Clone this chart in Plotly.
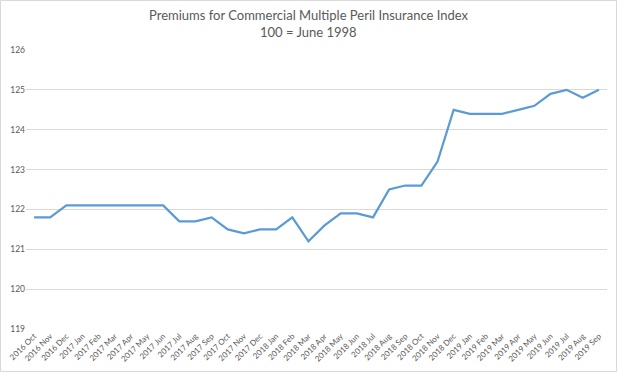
import plotly.graph_objects as go

months = [
    "2016 Oct", "2016 Nov", "2016 Dec",
    "2017 Jan", "2017 Feb", "2017 Mar", "2017 Apr", "2017 May", "2017 Jun",
    "2017 Jul", "2017 Aug", "2017 Sep", "2017 Oct", "2017 Nov", "2017 Dec",
    "2018 Jan", "2018 Feb", "2018 Mar", "2018 Apr", "2018 May", "2018 Jun",
    "2018 Jul", "2018 Aug", "2018 Sep", "2018 Oct", "2018 Nov", "2018 Dec",
    "2019 Jan", "2019 Feb", "2019 Mar", "2019 Apr", "2019 May", "2019 Jun",
    "2019 Jul", "2019 Aug", "2019 Sep",
]
index_values = [
    121.8, 121.8, 122.1,
    122.1, 122.1, 122.1, 122.1, 122.1, 122.1,
    121.7, 121.7, 121.8, 121.5, 121.4, 121.5,
    121.5, 121.8, 121.2, 121.6, 121.9, 121.9,
    121.8, 122.5, 122.6, 122.6, 123.2, 124.5,
    124.4, 124.4, 124.4, 124.5, 124.6, 124.9,
    125.0, 124.8, 125.0,
]
y_ticks = [119, 120, 121, 122, 123, 124, 125, 126]
title_lines = ["Premiums for Commercial Multiple Peril Insurance Index", "100 = June 1998"]

W, H = 617, 372
L, R, T, B = 26, 10, 50, 43

fig = go.Figure()
fig.add_trace(go.Scatter(
    x=months, y=index_values, mode="lines",
    line=dict(color="#5B9BD5", width=2.25),
    hoverinfo="x+y",
))

pw = W - L - R
ph = H - T - B
title_y_px = [15, 32]
annotations = [
    dict(text=t, xref="paper", yref="paper",
         x=(W / 2 - L) / pw, y=1 + (T - ypx) / ph,
         xanchor="center", yanchor="middle", showarrow=False,
         font=dict(size=13, color="#595959"))
    for t, ypx in zip(title_lines, title_y_px)
]

fig.update_layout(
    width=W, height=H,
    margin=dict(l=L, r=R, t=T, b=B, autoexpand=False),
    paper_bgcolor="white", plot_bgcolor="white",
    showlegend=False,
    font=dict(family="Lato, Open Sans, sans-serif", color="#595959"),
    annotations=annotations,
    xaxis=dict(
        type="category", range=[-0.5, len(months) - 0.5],
        tickangle=-45, tickfont=dict(size=8, color="#595959"),
        showgrid=False, zeroline=False, showline=False,
        ticks="", automargin=False,
    ),
    yaxis=dict(
        range=[119, 126], tickvals=y_ticks,
        tickfont=dict(size=8.5, color="#595959"),
        showgrid=True, gridcolor="#D9D9D9", gridwidth=1,
        zeroline=False, showline=False, ticks="", automargin=False,
    ),
    shapes=[dict(
        type="rect", xref="paper", yref="paper",
        x0=-(L - 0.5) / pw, x1=1 + (R - 0.5) / pw,
        y0=-(B - 0.5) / ph, y1=1 + (T - 0.5) / ph,
        line=dict(color="#D9D9D9", width=1), fillcolor="rgba(0,0,0,0)",
        layer="below",
    )],
)

fig.write_html(
    "out.html",
    config={"displayModeBar": False},
    post_script="document.body.style.margin='0';document.body.style.padding='0';",
)
